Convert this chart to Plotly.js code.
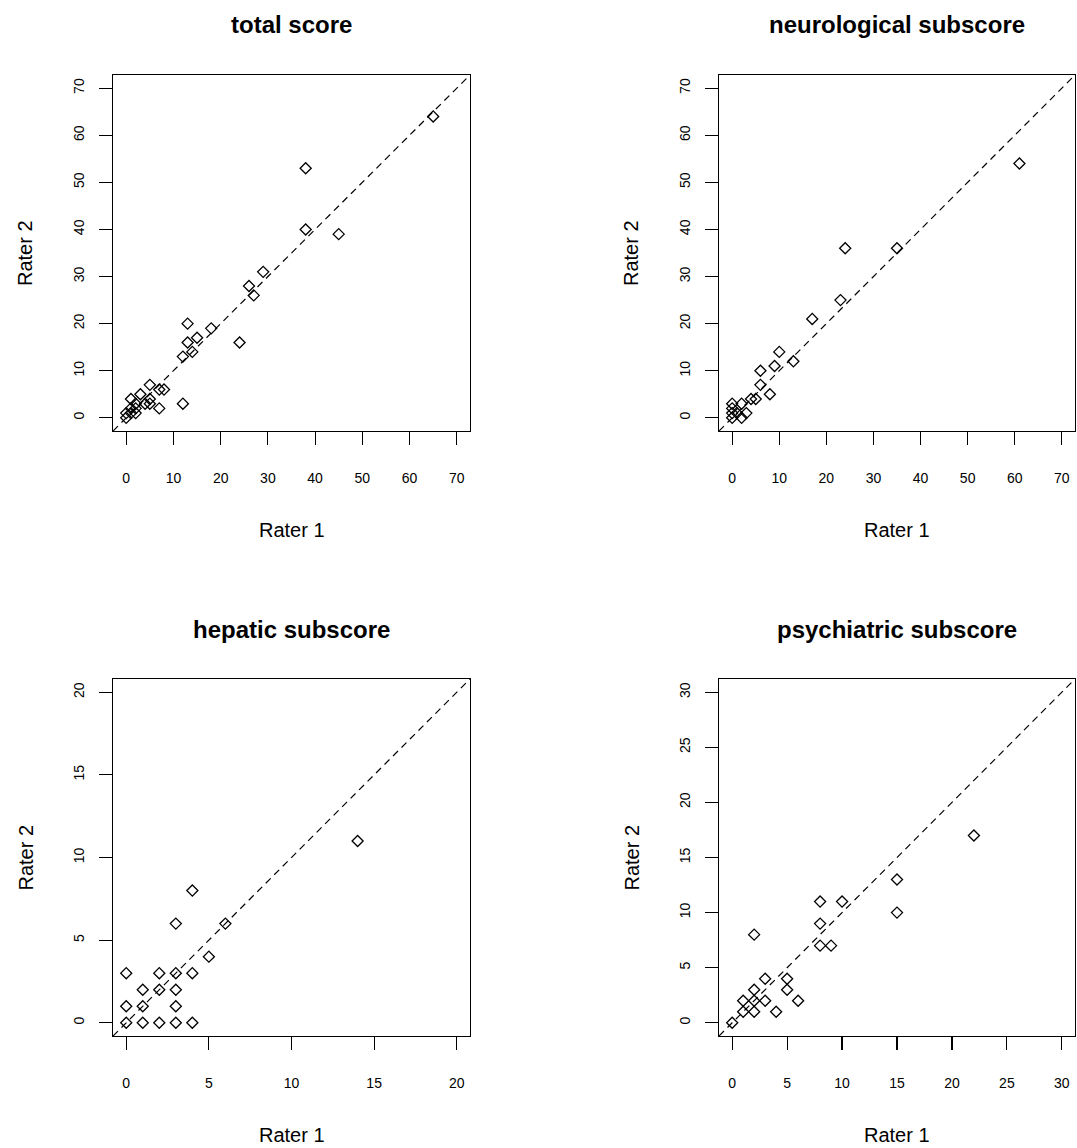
<!DOCTYPE html>
<html>
<head>
<meta charset="utf-8">
<script src="https://cdn.plot.ly/plotly-3.0.1.min.js"></script>
<style>html,body{margin:0;padding:0;background:#fff;}#chart{width:1077px;height:1148px;}</style>
</head>
<body>
<div id="chart"></div>
<script>
// ---- data ----
const panelTitles = ["total score", "neurological subscore", "hepatic subscore", "psychiatric subscore"];

const totalR1 = [0, 0, 1, 1, 1, 2, 2, 2, 3, 4, 5, 5, 5, 7, 8, 7, 12, 12, 13, 13, 14, 15, 18, 24, 26, 27, 29, 38, 38, 45, 65];
const totalR2 = [0, 1, 1, 2, 4, 1, 3, 2, 5, 3, 7, 4, 3, 6, 6, 2, 3, 13, 16, 20, 14, 17, 19, 16, 28, 26, 31, 40, 53, 39, 64];

const neuroR1 = [0, 0, 0, 0, 1, 2, 2, 3, 4, 5, 6, 6, 8, 9, 10, 13, 17, 23, 24, 35, 61];
const neuroR2 = [0, 1, 2, 3, 1, 0, 3, 1, 4, 4, 7, 10, 5, 11, 14, 12, 21, 25, 36, 36, 54];

const hepR1 = [0, 1, 2, 3, 4, 0, 1, 3, 1, 2, 3, 0, 2, 3, 4, 5, 3, 6, 4, 14];
const hepR2 = [0, 0, 0, 0, 0, 1, 1, 1, 2, 2, 2, 3, 3, 3, 3, 4, 6, 6, 8, 11];

const psyR1 = [0, 1, 2, 1, 2, 3, 2, 3, 4, 5, 5, 6, 2, 8, 9, 8, 8, 10, 15, 15, 22];
const psyR2 = [0, 1, 1, 2, 2, 2, 3, 4, 1, 3, 4, 2, 8, 7, 7, 9, 11, 11, 10, 13, 17];

const ticksBig = [0, 10, 20, 30, 40, 50, 60, 70];
const ticksHep = [0, 5, 10, 15, 20];
const ticksPsy = [0, 5, 10, 15, 20, 25, 30];
const limBig = [0, 70], limHep = [0, 20], limPsy = [0, 30];

const xLabel = "Rater 1", yLabel = "Rater 2";

// ---- layout helpers ----
const W = 1077, H = 1148;
function ext(l) { const d = (l[1] - l[0]) * 0.04; return [l[0] - d, l[1] + d]; }
const FONT = "Liberation Sans, Arial, sans-serif";

const boxes = [ // pixel boxes [left, right, top, bottom]
  [113, 470, 75, 431],
  [719, 1075, 75, 431],
  [113, 470, 679, 1036],
  [719, 1075, 679, 1036]
];
const xs = [totalR1, neuroR1, hepR1, psyR1];
const ys = [totalR2, neuroR2, hepR2, psyR2];
const lims = [limBig, limBig, limHep, limPsy];
const tks = [ticksBig, ticksBig, ticksHep, ticksPsy];

const data = [];
const layout = {
  width: W, height: H,
  margin: {l: 0, r: 0, t: 0, b: 0},
  paper_bgcolor: "#fff", plot_bgcolor: "#fff",
  showlegend: false,
  font: {family: FONT, color: "#000"},
  annotations: [], shapes: []
};

for (let i = 0; i < 4; i++) {
  const n = i === 0 ? "" : String(i + 1);
  const b = boxes[i];
  const r = ext(lims[i]);
  data.push({
    type: "scatter", mode: "markers",
    x: xs[i], y: ys[i],
    xaxis: "x" + n, yaxis: "y" + n,
    marker: {symbol: "diamond-open", size: 8.5, color: "#000", line: {width: 1.3, color: "#000"}},
    hoverinfo: "x+y"
  });
  const axCommon = {
    range: r, tickvals: tks[i], ticktext: tks[i].map(String),
    showgrid: false, zeroline: false,
    showline: true, mirror: true, linecolor: "#000", linewidth: 1.2,
    ticks: "outside", ticklen: 13, tickwidth: 1.2, tickcolor: "#000",
    tickfont: {family: FONT, size: 14, color: "#000"}
  };
  layout["xaxis" + n] = Object.assign({}, axCommon, {
    domain: [b[0] / W, b[1] / W],
    anchor: "y" + n,
    ticklabelstandoff: 21
  });
  layout["yaxis" + n] = Object.assign({}, axCommon, {
    domain: [1 - b[3] / H, 1 - b[2] / H],
    anchor: "x" + n,
    tickangle: -90,
    ticklabelstandoff: 9
  });
  // dashed identity line
  layout.shapes.push({
    type: "line", xref: "x" + n, yref: "y" + n,
    x0: r[0], y0: r[0], x1: r[1], y1: r[1],
    line: {color: "#000", width: 1.2, dash: "7px,5px"}
  });
  // title
  layout.annotations.push({
    text: "<b>" + panelTitles[i] + "</b>",
    xref: "x" + n + " domain", yref: "y" + n + " domain",
    x: 0.5, y: 1, yshift: 50, xanchor: "center", yanchor: "middle",
    showarrow: false, font: {family: FONT, size: 24, color: "#000"}
  });
  layout.annotations.push({
    text: xLabel,
    xref: "x" + n + " domain", yref: "y" + n + " domain",
    x: 0.5, y: 0, yshift: -99, xanchor: "center", yanchor: "middle",
    showarrow: false, font: {family: FONT, size: 20, color: "#000"}
  });
  layout.annotations.push({
    text: yLabel, textangle: -90,
    xref: "x" + n + " domain", yref: "y" + n + " domain",
    x: 0, y: 0.5, xshift: -88, xanchor: "center", yanchor: "middle",
    showarrow: false, font: {family: FONT, size: 20, color: "#000"}
  });
}

Plotly.newPlot("chart", data, layout, {staticPlot: true});
</script>
</body>
</html>
